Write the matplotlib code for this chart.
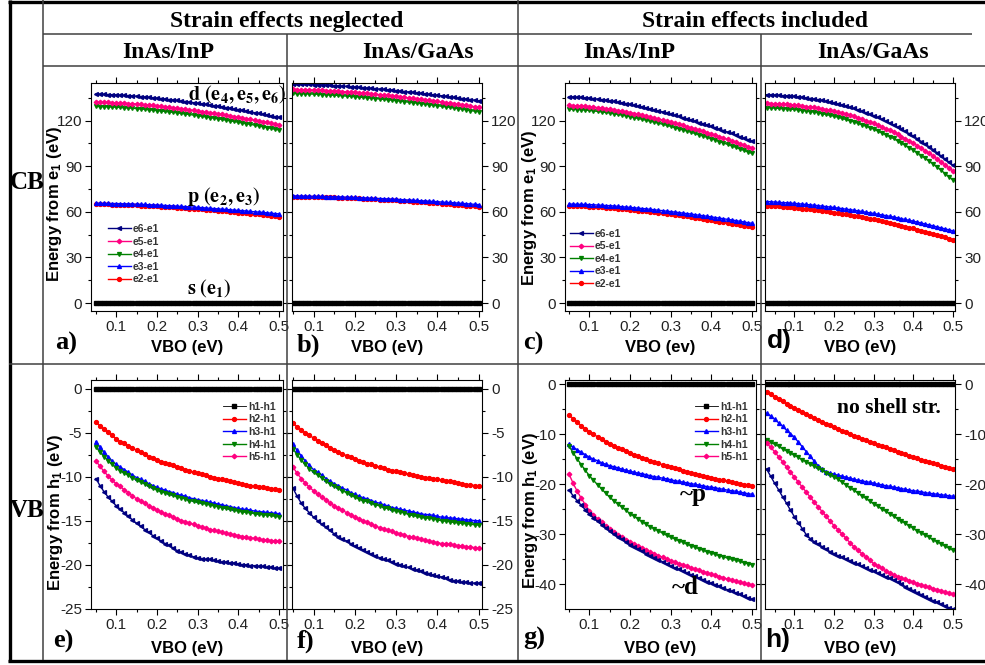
import numpy as np
import matplotlib.pyplot as plt
from matplotlib.lines import Line2D
from matplotlib.ticker import MultipleLocator

plt.rcParams['font.family'] = 'Liberation Sans'
plt.rcParams['axes.unicode_minus'] = False
plt.rcParams['mathtext.fontset'] = 'custom'
plt.rcParams['mathtext.rm'] = 'Liberation Sans:bold'
plt.rcParams['mathtext.it'] = 'Liberation Sans:bold:italic'
plt.rcParams['mathtext.bf'] = 'Liberation Sans:bold'

W, H = 985, 665
SERIF = 'Liberation Serif'
NAVY, PINK, GREEN, BLUE, RED = '#000080', '#ff0080', '#008000', '#0000ff', '#ff0000'

# VBO grid (eV)
vbo = np.arange(5, 51) / 100      # 0.05 .. 0.50
vbo2 = np.arange(3, 51) / 100     # 0.03 .. 0.50 (panels d, h)
zero = [0.0] * len(vbo)
zero2 = [0.0] * len(vbo2)

# ---- a) CB, strain neglected, InAs/InP ----
a_e6 = [137.5, 137.4, 137.3, 137.2, 137.1,
        137.0, 136.8, 136.6, 136.5, 136.3,
        136.1, 135.9, 135.6, 135.4, 135.1,
        134.9, 134.6, 134.3, 133.9, 133.6,
        133.3, 132.9, 132.6, 132.2, 131.9,
        131.5, 131.1, 130.7, 130.3, 129.9,
        129.5, 129.1, 128.6, 128.2, 127.7,
        127.3, 126.8, 126.3, 125.8, 125.3,
        124.8, 124.3, 123.8, 123.2, 122.7,
        122.2]
a_e5 = [132.3, 132.2, 132.1, 132.0, 131.9,
        131.8, 131.6, 131.5, 131.3, 131.2,
        131.0, 130.7, 130.5, 130.2, 130.0,
        129.7, 129.4, 129.1, 128.8, 128.5,
        128.2, 127.8, 127.5, 127.1, 126.8,
        126.4, 126.0, 125.6, 125.2, 124.9,
        124.5, 124.1, 123.6, 123.2, 122.7,
        122.3, 121.8, 121.3, 120.9, 120.4,
        119.9, 119.4, 118.9, 118.3, 117.8,
        117.3]
a_e4 = [129.4, 129.3, 129.2, 129.1, 129.0,
        128.9, 128.7, 128.5, 128.4, 128.2,
        128.0, 127.7, 127.5, 127.2, 127.0,
        126.7, 126.4, 126.1, 125.8, 125.5,
        125.2, 124.8, 124.4, 124.1, 123.7,
        123.3, 122.9, 122.5, 122.1, 121.7,
        121.3, 120.8, 120.4, 119.9, 119.5,
        119.0, 118.5, 118.0, 117.6, 117.1,
        116.6, 116.1, 115.5, 115.0, 114.4,
        113.9]
a_e3 = [65.7, 65.7, 65.6, 65.6, 65.5,
        65.5, 65.4, 65.3, 65.3, 65.2,
        65.1, 65.0, 64.9, 64.7, 64.6,
        64.5, 64.4, 64.2, 64.1, 63.9,
        63.8, 63.6, 63.5, 63.3, 63.2,
        63.0, 62.8, 62.6, 62.4, 62.2,
        62.0, 61.8, 61.6, 61.4, 61.2,
        61.0, 60.8, 60.6, 60.3, 60.1,
        59.9, 59.7, 59.4, 59.2, 58.9,
        58.7]
a_e2 = [65.0, 65.0, 64.9, 64.9, 64.8,
        64.8, 64.7, 64.6, 64.5, 64.4,
        64.3, 64.2, 64.0, 63.9, 63.7,
        63.6, 63.4, 63.3, 63.1, 63.0,
        62.8, 62.6, 62.4, 62.2, 62.0,
        61.8, 61.6, 61.4, 61.2, 61.0,
        60.8, 60.6, 60.3, 60.1, 59.8,
        59.6, 59.3, 59.1, 58.8, 58.6,
        58.3, 58.0, 57.7, 57.5, 57.2,
        56.9]

# ---- b) CB, strain neglected, InAs/GaAs ----
b_e6 = [144.1, 144.0, 144.0, 143.9, 143.9,
        143.8, 143.7, 143.5, 143.4, 143.2,
        143.1, 142.9, 142.7, 142.6, 142.4,
        142.2, 142.0, 141.8, 141.5, 141.3,
        141.1, 140.8, 140.6, 140.3, 140.1,
        139.8, 139.5, 139.2, 138.9, 138.6,
        138.3, 138.0, 137.7, 137.3, 137.0,
        136.7, 136.4, 136.0, 135.7, 135.3,
        135.0, 134.6, 134.2, 133.9, 133.5,
        133.1]
b_e5 = [140.6, 140.5, 140.4, 140.4, 140.3,
        140.2, 140.1, 139.9, 139.8, 139.6,
        139.5, 139.3, 139.1, 139.0, 138.8,
        138.6, 138.4, 138.1, 137.9, 137.6,
        137.4, 137.1, 136.8, 136.6, 136.3,
        136.0, 135.7, 135.4, 135.0, 134.7,
        134.4, 134.1, 133.7, 133.4, 133.0,
        132.7, 132.3, 131.9, 131.6, 131.2,
        130.8, 130.4, 130.0, 129.6, 129.2,
        128.8]
b_e4 = [137.9, 137.8, 137.7, 137.7, 137.6,
        137.5, 137.4, 137.2, 137.1, 136.9,
        136.8, 136.6, 136.4, 136.2, 136.0,
        135.8, 135.6, 135.3, 135.1, 134.8,
        134.6, 134.3, 134.0, 133.8, 133.5,
        133.2, 132.9, 132.6, 132.2, 131.9,
        131.6, 131.3, 130.9, 130.6, 130.2,
        129.9, 129.5, 129.1, 128.8, 128.4,
        128.0, 127.6, 127.2, 126.7, 126.3,
        125.9]
b_e3 = [70.5, 70.5, 70.4, 70.4, 70.3,
        70.3, 70.2, 70.2, 70.1, 70.1,
        70.0, 69.9, 69.8, 69.7, 69.6,
        69.5, 69.4, 69.3, 69.1, 69.0,
        68.9, 68.8, 68.7, 68.5, 68.4,
        68.3, 68.1, 68.0, 67.8, 67.7,
        67.5, 67.3, 67.2, 67.0, 66.9,
        66.7, 66.5, 66.3, 66.2, 66.0,
        65.8, 65.6, 65.4, 65.2, 65.0,
        64.8]
b_e2 = [70.1, 70.1, 70.0, 70.0, 69.9,
        69.9, 69.8, 69.7, 69.7, 69.6,
        69.5, 69.4, 69.3, 69.2, 69.1,
        69.0, 68.9, 68.7, 68.6, 68.4,
        68.3, 68.1, 68.0, 67.8, 67.7,
        67.5, 67.3, 67.1, 66.9, 66.8,
        66.6, 66.4, 66.2, 66.1, 65.9,
        65.7, 65.5, 65.3, 65.0, 64.8,
        64.6, 64.4, 64.2, 63.9, 63.7,
        63.5]

# ---- c) CB, strain included, InAs/InP ----
c_e6 = [135.8, 135.6, 135.4, 135.3, 135.1,
        134.9, 134.6, 134.2, 133.9, 133.5,
        133.2, 132.7, 132.2, 131.8, 131.3,
        130.8, 130.2, 129.6, 129.0, 128.4,
        127.8, 127.1, 126.4, 125.8, 125.1,
        124.4, 123.6, 122.9, 122.1, 121.3,
        120.5, 119.7, 118.8, 118.0, 117.1,
        116.3, 115.4, 114.4, 113.5, 112.5,
        111.6, 110.6, 109.6, 108.6, 107.6,
        106.6]
c_e5 = [130.1, 129.9, 129.8, 129.6, 129.5,
        129.3, 129.0, 128.6, 128.3, 127.9,
        127.6, 127.1, 126.7, 126.2, 125.8,
        125.3, 124.7, 124.1, 123.6, 123.0,
        122.4, 121.7, 121.1, 120.4, 119.8,
        119.1, 118.4, 117.6, 116.9, 116.1,
        115.4, 114.6, 113.8, 112.9, 112.1,
        111.3, 110.4, 109.5, 108.6, 107.7,
        106.8, 105.8, 104.9, 103.9, 103.0,
        102.0]
c_e4 = [127.7, 127.5, 127.3, 127.2, 127.0,
        126.8, 126.5, 126.1, 125.8, 125.4,
        125.1, 124.6, 124.1, 123.7, 123.2,
        122.7, 122.1, 121.5, 120.9, 120.3,
        119.7, 119.0, 118.3, 117.7, 117.0,
        116.3, 115.5, 114.7, 114.0, 113.2,
        112.4, 111.6, 110.7, 109.9, 109.0,
        108.2, 107.3, 106.3, 105.4, 104.4,
        103.5, 102.5, 101.5, 100.5, 99.5,
        98.5]
c_e3 = [65.2, 65.1, 65.0, 65.0, 64.9,
        64.8, 64.7, 64.5, 64.4, 64.2,
        64.1, 63.9, 63.7, 63.4, 63.2,
        63.0, 62.7, 62.5, 62.2, 62.0,
        61.7, 61.4, 61.1, 60.8, 60.5,
        60.2, 59.9, 59.6, 59.2, 58.9,
        58.6, 58.2, 57.8, 57.5, 57.1,
        56.7, 56.3, 55.9, 55.5, 55.1,
        54.7, 54.3, 53.8, 53.4, 52.9,
        52.5]
c_e2 = [63.9, 63.8, 63.7, 63.7, 63.6,
        63.5, 63.3, 63.1, 63.0, 62.8,
        62.6, 62.4, 62.2, 61.9, 61.7,
        61.5, 61.2, 60.9, 60.7, 60.4,
        60.1, 59.8, 59.4, 59.1, 58.7,
        58.4, 58.0, 57.7, 57.3, 57.0,
        56.6, 56.2, 55.8, 55.3, 54.9,
        54.5, 54.1, 53.6, 53.2, 52.7,
        52.3, 51.8, 51.3, 50.9, 50.4,
        49.9]

# ---- d) CB, strain included, InAs/GaAs (VBO from 0.03) ----
d_e6 = [137.1, 137.0,
        136.9, 136.7, 136.5, 136.4, 136.2,
        136.0, 135.7, 135.3, 135.0, 134.6,
        134.3, 133.8, 133.3, 132.8, 132.3,
        131.8, 131.1, 130.3, 129.6, 128.8,
        128.1, 127.2, 126.2, 125.3, 124.3,
        123.4, 122.2, 121.0, 119.7, 118.5,
        117.3, 115.8, 114.3, 112.9, 111.4,
        109.9, 108.1, 106.3, 104.6, 102.8,
        101.0, 98.9, 96.8, 94.8, 92.7,
        90.6]
d_e5 = [131.4, 131.3,
        131.2, 131.0, 130.8, 130.7, 130.5,
        130.3, 130.0, 129.7, 129.3, 129.0,
        128.7, 128.2, 127.7, 127.3, 126.8,
        126.3, 125.6, 124.9, 124.2, 123.5,
        122.8, 121.9, 121.0, 120.1, 119.2,
        118.3, 117.1, 115.9, 114.8, 113.6,
        112.4, 111.0, 109.6, 108.1, 106.7,
        105.3, 103.6, 101.9, 100.2, 98.5,
        96.8, 94.8, 92.8, 90.9, 88.9,
        86.9]
d_e4 = [128.5, 128.4,
        128.3, 128.1, 127.9, 127.8, 127.6,
        127.4, 127.1, 126.7, 126.4, 126.0,
        125.7, 125.2, 124.6, 124.1, 123.5,
        123.0, 122.3, 121.5, 120.8, 120.0,
        119.3, 118.3, 117.4, 116.4, 115.5,
        114.5, 113.3, 112.0, 110.8, 109.5,
        108.3, 106.8, 105.3, 103.7, 102.2,
        100.7, 98.9, 97.1, 95.2, 93.4,
        91.6, 89.5, 87.4, 85.2, 83.1,
        81.0]
d_e3 = [66.8, 66.7,
        66.5, 66.3, 66.1, 66.0, 65.8,
        65.6, 65.4, 65.1, 64.9, 64.6,
        64.4, 64.1, 63.8, 63.5, 63.2,
        62.9, 62.5, 62.2, 61.8, 61.5,
        61.1, 60.7, 60.3, 59.8, 59.4,
        59.0, 58.5, 58.0, 57.6, 57.1,
        56.6, 56.1, 55.5, 55.0, 54.4,
        53.9, 53.3, 52.7, 52.0, 51.4,
        50.8, 50.1, 49.5, 48.8, 48.2,
        47.5]
d_e2 = [64.1, 64.0,
        63.8, 63.6, 63.4, 63.2, 63.0,
        62.8, 62.5, 62.2, 62.0, 61.7,
        61.4, 61.0, 60.7, 60.3, 60.0,
        59.6, 59.2, 58.8, 58.3, 57.9,
        57.5, 57.0, 56.5, 56.0, 55.5,
        55.0, 54.4, 53.9, 53.3, 52.8,
        52.2, 51.6, 51.0, 50.3, 49.7,
        49.1, 48.4, 47.7, 46.9, 46.2,
        45.5, 44.7, 43.9, 43.2, 42.4,
        41.6]

# ---- e) VB, strain neglected, InAs/InP ----
e_h2 = [-3.8, -4.2, -4.6, -4.9, -5.3,
        -5.7, -6.0, -6.2, -6.5, -6.7,
        -7.0, -7.2, -7.4, -7.7, -7.9,
        -8.1, -8.3, -8.4, -8.6, -8.7,
        -8.9, -9.0, -9.2, -9.3, -9.5,
        -9.6, -9.7, -9.8, -10.0, -10.1,
        -10.2, -10.3, -10.4, -10.5, -10.6,
        -10.7, -10.8, -10.9, -11.0, -11.1,
        -11.15, -11.2, -11.3, -11.4, -11.4,
        -11.5]
e_h3 = [-6.0, -6.6, -7.2, -7.7, -8.2,
        -8.6, -8.9, -9.2, -9.5, -9.8,
        -10.1, -10.3, -10.5, -10.8, -11.0,
        -11.2, -11.4, -11.5, -11.7, -11.8,
        -12.0, -12.1, -12.2, -12.4, -12.5,
        -12.6, -12.7, -12.8, -12.9, -13.0,
        -13.1, -13.2, -13.3, -13.4, -13.5,
        -13.6, -13.7, -13.7, -13.8, -13.9,
        -13.95, -14.0, -14.05, -14.1, -14.15,
        -14.2]
e_h4 = [-6.6, -7.2, -7.7, -8.2, -8.6,
        -9.0, -9.3, -9.6, -9.8, -10.1,
        -10.4, -10.6, -10.8, -11.1, -11.3,
        -11.5, -11.7, -11.8, -12.0, -12.1,
        -12.3, -12.4, -12.5, -12.7, -12.8,
        -12.9, -13.0, -13.1, -13.2, -13.3,
        -13.4, -13.5, -13.6, -13.7, -13.8,
        -13.9, -14.0, -14.05, -14.1, -14.2,
        -14.25, -14.3, -14.35, -14.4, -14.5,
        -14.55]
e_h5 = [-8.2, -8.8, -9.4, -9.9, -10.4,
        -10.8, -11.1, -11.5, -11.8, -12.2,
        -12.5, -12.8, -13.0, -13.3, -13.5,
        -13.8, -14.0, -14.2, -14.4, -14.6,
        -14.8, -15.0, -15.1, -15.3, -15.4,
        -15.6, -15.7, -15.8, -16.0, -16.1,
        -16.2, -16.3, -16.4, -16.5, -16.6,
        -16.7, -16.8, -16.9, -16.95, -17.0,
        -17.1, -17.15, -17.2, -17.25, -17.3,
        -17.35]
e_h6 = [-10.2, -11.0, -11.7, -12.3, -12.8,
        -13.3, -13.7, -14.1, -14.5, -14.9,
        -15.3, -15.6, -16.0, -16.3, -16.7,
        -17.0, -17.3, -17.6, -17.8, -18.1,
        -18.4, -18.6, -18.8, -18.9, -19.1,
        -19.2, -19.3, -19.4, -19.4, -19.5,
        -19.6, -19.7, -19.7, -19.8, -19.8,
        -19.9, -20.0, -20.0, -20.1, -20.1,
        -20.2, -20.2, -20.3, -20.3, -20.4,
        -20.4]

# ---- f) VB, strain neglected, InAs/GaAs ----
f_h2 = [-3.9, -4.3, -4.7, -5.0, -5.3,
        -5.6, -5.9, -6.2, -6.4, -6.7,
        -7.0, -7.2, -7.4, -7.6, -7.8,
        -8.0, -8.2, -8.3, -8.5, -8.6,
        -8.8, -8.9, -9.0, -9.2, -9.3,
        -9.4, -9.5, -9.6, -9.7, -9.8,
        -9.9, -10.0, -10.1, -10.1, -10.2,
        -10.3, -10.4, -10.5, -10.5, -10.6,
        -10.7, -10.8, -10.9, -10.9, -11.0,
        -11.1]
f_h3 = [-6.3, -7.0, -7.6, -8.2, -8.7,
        -9.2, -9.5, -9.8, -10.2, -10.5,
        -10.8, -11.0, -11.3, -11.5, -11.8,
        -12.0, -12.2, -12.4, -12.5, -12.7,
        -12.9, -13.0, -13.2, -13.3, -13.5,
        -13.6, -13.7, -13.8, -13.9, -14.0,
        -14.1, -14.2, -14.3, -14.3, -14.4,
        -14.5, -14.6, -14.6, -14.7, -14.7,
        -14.8, -14.8, -14.9, -14.9, -15.0,
        -15.0]
f_h4 = [-6.8, -7.5, -8.1, -8.6, -9.1,
        -9.5, -9.8, -10.1, -10.5, -10.8,
        -11.1, -11.3, -11.6, -11.8, -12.1,
        -12.3, -12.5, -12.7, -12.8, -13.0,
        -13.2, -13.3, -13.5, -13.6, -13.8,
        -13.9, -14.0, -14.1, -14.3, -14.4,
        -14.5, -14.6, -14.7, -14.7, -14.8,
        -14.9, -15.0, -15.05, -15.1, -15.2,
        -15.25, -15.3, -15.35, -15.4, -15.45,
        -15.5]
f_h5 = [-8.9, -9.6, -10.2, -10.7, -11.2,
        -11.6, -12.0, -12.3, -12.6, -13.0,
        -13.3, -13.6, -13.8, -14.1, -14.3,
        -14.6, -14.8, -15.0, -15.2, -15.4,
        -15.6, -15.8, -15.9, -16.1, -16.2,
        -16.4, -16.5, -16.6, -16.8, -16.9,
        -17.0, -17.1, -17.2, -17.3, -17.4,
        -17.5, -17.6, -17.6, -17.7, -17.8,
        -17.85, -17.9, -17.95, -18.0, -18.05,
        -18.1]
f_h6 = [-11.3, -12.2, -13.0, -13.6, -14.1,
        -14.6, -15.0, -15.4, -15.7, -16.1,
        -16.5, -16.8, -17.1, -17.3, -17.6,
        -17.9, -18.1, -18.3, -18.6, -18.8,
        -19.0, -19.2, -19.4, -19.5, -19.7,
        -19.9, -20.0, -20.2, -20.3, -20.5,
        -20.6, -20.7, -20.9, -21.0, -21.2,
        -21.3, -21.4, -21.5, -21.7, -21.8,
        -21.9, -22.0, -22.0, -22.05, -22.1,
        -22.1]

# ---- g) VB, strain included, InAs/InP ----
g_h2 = [-6.1, -6.9, -7.6, -8.3, -8.9,
        -9.5, -10.0, -10.5, -11.0, -11.5,
        -11.9, -12.3, -12.7, -13.0, -13.4,
        -13.8, -14.1, -14.4, -14.7, -15.0,
        -15.3, -15.6, -15.8, -16.1, -16.3,
        -16.6, -16.8, -17.0, -17.3, -17.5,
        -17.7, -17.9, -18.1, -18.3, -18.5,
        -18.7, -18.9, -19.1, -19.2, -19.4,
        -19.6, -19.8, -19.9, -20.1, -20.2,
        -20.4]
g_h3 = [-12.0, -12.6, -13.1, -13.6, -14.1,
        -14.6, -15.0, -15.3, -15.7, -16.0,
        -16.3, -16.5, -16.7, -17.0, -17.2,
        -17.4, -17.6, -17.8, -17.9, -18.1,
        -18.3, -18.5, -18.6, -18.8, -18.9,
        -19.1, -19.3, -19.4, -19.6, -19.7,
        -19.9, -20.0, -20.2, -20.3, -20.5,
        -20.6, -20.7, -20.9, -21.0, -21.2,
        -21.3, -21.4, -21.6, -21.7, -21.9,
        -22.0]
g_h4 = [-12.4, -13.7, -14.9, -16.1, -17.2,
        -18.3, -19.2, -20.1, -20.9, -21.8,
        -22.6, -23.3, -23.9, -24.6, -25.2,
        -25.9, -26.4, -26.9, -27.5, -28.0,
        -28.5, -28.9, -29.3, -29.8, -30.2,
        -30.6, -30.9, -31.3, -31.6, -32.0,
        -32.3, -32.6, -32.9, -33.2, -33.5,
        -33.8, -34.0, -34.3, -34.5, -34.8,
        -35.0, -35.2, -35.4, -35.7, -35.9,
        -36.1]
g_h5 = [-18.0, -19.8, -21.4, -22.8, -24.1,
        -25.3, -26.1, -26.9, -27.6, -28.3,
        -29.0, -29.5, -30.1, -30.6, -31.1,
        -31.6, -32.0, -32.4, -32.8, -33.2,
        -33.6, -33.9, -34.3, -34.6, -35.0,
        -35.3, -35.6, -35.9, -36.1, -36.4,
        -36.7, -37.0, -37.2, -37.5, -37.7,
        -38.0, -38.2, -38.5, -38.7, -39.0,
        -39.2, -39.4, -39.6, -39.8, -40.0,
        -40.2]
g_h6 = [-21.2, -22.3, -23.3, -24.2, -25.1,
        -26.0, -26.7, -27.4, -28.1, -28.7,
        -29.4, -30.0, -30.5, -31.0, -31.6,
        -32.1, -32.5, -33.0, -33.4, -33.9,
        -34.3, -34.7, -35.1, -35.5, -35.9,
        -36.3, -36.7, -37.0, -37.4, -37.7,
        -38.1, -38.4, -38.8, -39.1, -39.5,
        -39.8, -40.1, -40.4, -40.8, -41.1,
        -41.4, -41.7, -42.0, -42.4, -42.7,
        -43.0]

# ---- h) VB, strain included, InAs/GaAs, no shell strain (VBO from 0.03) ----
h_h2 = [-1.6, -2.05,
        -2.5, -3.0, -3.4, -3.9, -4.3,
        -4.8, -5.2, -5.6, -6.0, -6.4,
        -6.8, -7.2, -7.5, -7.9, -8.2,
        -8.6, -8.9, -9.3, -9.6, -10.0,
        -10.3, -10.6, -10.9, -11.2, -11.5,
        -11.8, -12.1, -12.4, -12.6, -12.9,
        -13.2, -13.5, -13.8, -14.0, -14.3,
        -14.6, -14.8, -15.1, -15.3, -15.6,
        -15.8, -16.0, -16.3, -16.5, -16.8,
        -17.0]
h_h3 = [-5.8, -6.4,
        -7.0, -7.7, -8.4, -9.2, -9.9,
        -10.6, -11.6, -12.5, -13.5, -14.4,
        -15.4, -16.3, -17.0, -17.5, -17.8,
        -18.0, -18.2, -18.4, -18.6, -18.8,
        -19.0, -19.2, -19.3, -19.5, -19.6,
        -19.8, -20.0, -20.1, -20.3, -20.4,
        -20.6, -20.7, -20.9, -21.0, -21.2,
        -21.3, -21.4, -21.5, -21.7, -21.8,
        -21.9, -22.0, -22.1, -22.2, -22.3,
        -22.4]
h_h4 = [-11.2, -11.6,
        -12.0, -12.4, -12.9, -13.3, -13.8,
        -14.2, -14.6, -15.1, -15.5, -16.0,
        -16.4, -16.8, -17.2, -17.7, -18.1,
        -18.5, -19.0, -19.6, -20.1, -20.7,
        -21.2, -21.7, -22.3, -22.8, -23.4,
        -23.9, -24.4, -24.9, -25.4, -25.9,
        -26.4, -26.9, -27.4, -27.8, -28.3,
        -28.8, -29.3, -29.7, -30.2, -30.6,
        -31.1, -31.5, -31.9, -32.4, -32.8,
        -33.2]
h_h5 = [-11.8, -12.6,
        -13.5, -14.5, -15.5, -16.6, -17.6,
        -18.6, -19.6, -20.6, -21.6, -22.6,
        -23.6, -24.5, -25.5, -26.4, -27.4,
        -28.3, -29.1, -30.0, -30.8, -31.7,
        -32.5, -33.2, -33.9, -34.5, -35.2,
        -35.9, -36.4, -36.8, -37.3, -37.7,
        -38.2, -38.5, -38.8, -39.0, -39.3,
        -39.6, -39.9, -40.1, -40.4, -40.6,
        -40.9, -41.1, -41.3, -41.6, -41.8,
        -42.0]
h_h6 = [-17.0, -18.4,
        -19.8, -21.1, -22.5, -23.8, -25.2,
        -26.5, -27.7, -28.9, -30.1, -30.9,
        -31.5, -32.0, -32.5, -33.0, -33.5,
        -33.9, -34.3, -34.6, -35.0, -35.3,
        -35.7, -36.0, -36.4, -36.7, -37.1,
        -37.4, -37.8, -38.1, -38.5, -38.8,
        -39.2, -39.6, -40.0, -40.5, -40.9,
        -41.3, -41.7, -42.1, -42.5, -42.9,
        -43.3, -43.6, -44.0, -44.3, -44.7,
        -45.0]


fig = plt.figure(figsize=(W / 100, H / 100), dpi=100)


def fx(x):
    return x / W


def fy(y):
    return 1 - y / H


def add_ax(l, t, r, b):
    return fig.add_axes([fx(l), fy(b), (r - l) / W, (b - t) / H])


def rule(x0, y0, x1, y1, lw=1.1, color='#404040'):
    fig.add_artist(Line2D([fx(x0), fx(x1)], [fy(y0), fy(y1)],
                          transform=fig.transFigure, lw=lw, color=color,
                          solid_capstyle='butt'))


def style(ax, right=False):
    ax.tick_params(which='both', direction='out', top=True, right=True,
                   labelsize=11, width=0.8, labelcolor='#222222', pad=2.5)
    ax.tick_params(which='major', length=4)
    ax.tick_params(which='minor', length=2.5)
    if right:
        ax.tick_params(labelleft=False, labelright=True)
    ax.xaxis.set_major_locator(MultipleLocator(0.1))
    ax.xaxis.set_minor_locator(MultipleLocator(0.05))
    for s in ax.spines.values():
        s.set_linewidth(0.8)


def curve(ax, x, y, color, marker, label=None, ms=2.8, lw=1.0):
    return ax.plot(x, y, color=color, lw=lw, marker=marker, ms=ms,
                   mec=color, mfc=color, label=label)[0]


LEG = dict(loc='upper left', frameon=False, numpoints=1,
           prop={'family': 'Liberation Sans', 'weight': 'bold', 'size': 7.5},
           handlelength=2.2, handletextpad=0.2, labelspacing=0.25,
           borderpad=0, borderaxespad=0)


def cb_panel(ax, x, z, e2, e3, e4, e5, e6, right, legend_at=None):
    curve(ax, x, z, 'black', 's', ms=2.2, lw=0.6)
    l2 = curve(ax, x, e2, RED, 'o', 'e2-e1')
    l3 = curve(ax, x, e3, BLUE, '^', 'e3-e1')
    l4 = curve(ax, x, e4, GREEN, 'v', 'e4-e1')
    l5 = curve(ax, x, e5, PINK, 'D', 'e5-e1', ms=2.3)
    l6 = curve(ax, x, e6, NAVY, '<', 'e6-e1')
    ax.set_ylim(-5, 145)
    ax.yaxis.set_major_locator(MultipleLocator(30))
    ax.yaxis.set_minor_locator(MultipleLocator(15))
    style(ax, right)
    if legend_at is not None:
        hs = [l6, l5, l4, l3, l2]
        leg = ax.legend(hs, [h.get_label() for h in hs],
                        bbox_to_anchor=legend_at, **LEG)
        for t in leg.get_texts():
            t.set_color('#333333')


def vb_panel(ax, x, z, h2, h3, h4, h5, h6, right, ylim, major, legend_at=None):
    l1 = curve(ax, x, z, 'black', 's', 'h1-h1', ms=2.2, lw=0.6)
    l2 = curve(ax, x, h2, RED, 'o', 'h2-h1')
    l3 = curve(ax, x, h3, BLUE, '^', 'h3-h1')
    l4 = curve(ax, x, h4, GREEN, 'v', 'h4-h1')
    l5 = curve(ax, x, h5, PINK, 'D', 'h5-h1', ms=2.3)
    curve(ax, x, h6, NAVY, '<')
    ax.set_ylim(*ylim)
    ax.yaxis.set_major_locator(MultipleLocator(major))
    ax.yaxis.set_minor_locator(MultipleLocator(major / 2))
    style(ax, right)
    if legend_at is not None:
        hs = [l1, l2, l3, l4, l5]
        leg = ax.legend(hs, [h.get_label() for h in hs],
                        bbox_to_anchor=legend_at, **LEG)
        for t in leg.get_texts():
            t.set_color('#333333')


cols = [(91, 283), (291.7, 482), (565, 756), (764.7, 955)]
top_row = (82.7, 310.7)
bot_row = (380, 608.7)
xlims = [(0.038, 0.51), (0.047, 0.508), (0.04, 0.51), (0.025, 0.505)]

axes_top = [add_ax(l, top_row[0], r, top_row[1]) for l, r in cols]
axes_bot = [add_ax(l, bot_row[0], r, bot_row[1]) for l, r in cols]

cb_panel(axes_top[0], vbo, zero, a_e2, a_e3, a_e4, a_e5, a_e6, False, (0.088, 0.38))
cb_panel(axes_top[1], vbo, zero, b_e2, b_e3, b_e4, b_e5, b_e6, True)
cb_panel(axes_top[2], vbo, zero, c_e2, c_e3, c_e4, c_e5, c_e6, False, (0.026, 0.36))
cb_panel(axes_top[3], vbo2, zero2, d_e2, d_e3, d_e4, d_e5, d_e6, True)

vb_panel(axes_bot[0], vbo, zero, e_h2, e_h3, e_h4, e_h5, e_h6, False, (-25, 1), 5, (0.6875, 0.905))
vb_panel(axes_bot[1], vbo, zero, f_h2, f_h3, f_h4, f_h5, f_h6, True, (-25, 1), 5)
vb_panel(axes_bot[2], vbo, zero, g_h2, g_h3, g_h4, g_h5, g_h6, False, (-44.9, 0.85), 10, (0.68, 0.905))
vb_panel(axes_bot[3], vbo2, zero2, h_h2, h_h3, h_h4, h_h5, h_h6, True, (-44.9, 0.85), 10)

LABEL = dict(fontsize=12, fontweight='bold')
for i, (at, ab) in enumerate(zip(axes_top, axes_bot)):
    at.set_xlim(*xlims[i])
    ab.set_xlim(*xlims[i])
    at.set_xlabel('VBO (ev)' if i == 2 else 'VBO (eV)', **LABEL)
    ab.set_xlabel('VBO (eV)', **LABEL)
    at.xaxis.set_label_coords(0.5, -0.13)
    ab.xaxis.set_label_coords(0.5, -0.14)

axes_top[0].set_ylabel('Energy from e$_1$ (eV)', **LABEL)
axes_top[0].yaxis.set_label_coords(-0.14, 0.47)
axes_top[2].set_ylabel('Energy from e$_1$ (eV)', **LABEL)
axes_top[2].yaxis.set_label_coords(-0.136, 0.45)
axes_bot[0].set_ylabel('Energy from h$_1$ (eV)', **LABEL)
axes_bot[0].yaxis.set_label_coords(-0.135, 0.42)
axes_bot[2].set_ylabel('Energy from h$_1$ (eV)', **LABEL)
axes_bot[2].yaxis.set_label_coords(-0.131, 0.43)

# panel annotations
ANN = dict(math_fontfamily='stix', fontsize=14.5, va='baseline', ha='left')
fig.text(fx(188), fy(100), r'$\mathbf{d\ (e_4,e_5,e_6)}$', **ANN)
fig.text(fx(187), fy(202), r'$\mathbf{p\ (e_2,e_3)}$', **ANN)
fig.text(fx(187), fy(294), r'$\mathbf{s\ (e_1)}$', **ANN)
SER = dict(family=SERIF, fontweight='bold', va='baseline', ha='left')
fig.text(fx(680), fy(501), '~p', fontsize=18, **SER)
fig.text(fx(672), fy(594), '~d', fontsize=18, **SER)
fig.text(fx(837), fy(413), 'no shell str.', fontsize=15.5, **SER)

# panel letters
for lab, x, y, fam in [('a)', 55, 350, SERIF), ('b)', 297, 352, SERIF),
                       ('c)', 523, 350, SERIF), ('d)', 767, 348, 'Liberation Sans'),
                       ('e)', 53, 648, SERIF), ('f)', 297, 648, SERIF),
                       ('g)', 523, 645, SERIF), ('h)', 765, 647, 'Liberation Sans')]:
    fig.text(fx(x), fy(y), lab, family=fam, fontweight='bold', fontsize=19,
             va='baseline', ha='left')

# table headers
HDR = dict(family=SERIF, fontweight='bold', fontsize=17, va='baseline', ha='center')
fig.text(fx(287), fy(27), 'Strain effects neglected', **HDR)
fig.text(fx(755), fy(27), 'Strain effects included', **HDR)
for txt, x in [('InAs/InP', 168), ('InAs/GaAs', 418), ('InAs/InP', 629), ('InAs/GaAs', 873)]:
    fig.text(fx(x), fy(58.5), txt, **HDR)
fig.text(fx(27), fy(189), 'CB', family=SERIF, fontweight='bold', fontsize=18,
         va='baseline', ha='center')
fig.text(fx(27), fy(517), 'VB', family=SERIF, fontweight='bold', fontsize=18,
         va='baseline', ha='center')

# table rules
rule(8, 1.5, 985, 1.5, lw=2.4, color='black')
rule(9.5, 0, 9.5, 662, lw=2.4, color='black')
rule(8, 660.5, 985, 660.5, lw=2.4, color='black')
rule(43, 0, 43, 660)
rule(518, 0, 518, 660)
rule(287, 34, 287, 660)
rule(761, 34, 761, 660)
rule(43, 34, 972, 34)
rule(43, 66, 985, 66)
rule(9, 364, 985, 364)

fig.savefig('out.png', dpi=100)
